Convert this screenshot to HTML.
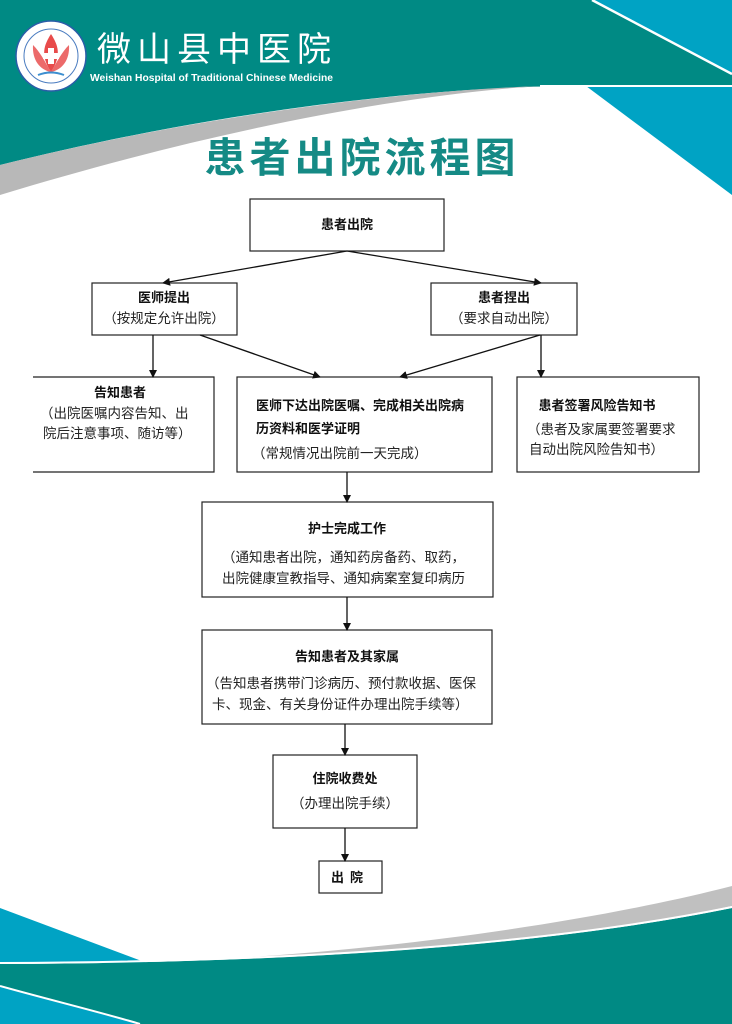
<!DOCTYPE html>
<html><head><meta charset="utf-8"><style>
html,body{margin:0;padding:0;background:#fff}
svg{display:block}
text{font-family:"Liberation Sans","Noto Sans CJK SC",sans-serif;fill:#111}
.b{font-weight:bold;font-size:13px}
.n{font-size:13.5px;fill:#222}
</style></head><body>
<svg width="732" height="1024" viewBox="0 0 732 1024" xmlns="http://www.w3.org/2000/svg">
<defs><marker id="a" markerWidth="8" markerHeight="8" refX="7" refY="4" orient="auto" markerUnits="userSpaceOnUse"><path d="M0,0 L8,4 L0,8 Z" fill="#111"/></marker></defs>
<!-- header -->
<path d="M0,0 H732 V86 H560 C380,90 180,120 0,165 Z" fill="#008a84"/>
<path d="M592,0 H732 V74 Z" fill="#00a3c4"/>
<path d="M0,165 C180,120 380,92 540,86 C380,96 180,140 0,195 Z" fill="#b8b8b8"/>
<path d="M592,0 L732,74" stroke="#fff" stroke-width="2.5" fill="none"/>
<path d="M586,86 H732 V195 Z" fill="#00a3c4"/>
<path d="M540,86 H732" stroke="#fff" stroke-width="2"/>
<circle cx="51" cy="56" r="35" fill="#fff" stroke="#2a5da8" stroke-width="1.5"/>
<circle cx="51" cy="56" r="27" fill="none" stroke="#4a7cc0" stroke-width="1"/>
<path d="M51,34 C44,45 40,55 51,72 C62,55 58,45 51,34 Z" fill="#e84b4b"/>
<path d="M33,45 C32,60 40,70 51,72 C44,60 40,52 33,45 Z M69,45 C70,60 62,70 51,72 C58,60 62,52 69,45 Z" fill="#ec6a6a"/>
<rect x="48" y="48" width="6" height="16" fill="#fff"/><rect x="43" y="53" width="16" height="6" fill="#fff"/>
<path d="M38,75 Q51,70 64,75" stroke="#3d8fd0" stroke-width="2" fill="none"/>
<text x="97" y="61" style="font-size:34px;fill:#fff;letter-spacing:6px">微山县中医院</text>
<text x="90" y="81" style="font-size:10.3px;font-weight:bold;fill:#fff">Weishan Hospital of Traditional Chinese Medicine</text>
<text x="362" y="172" text-anchor="middle" style="font-size:41px;font-weight:bold;fill:#158a85;letter-spacing:4px">患者出院流程图</text>
<!-- footer -->
<path d="M0,908 L147,963 H0 Z" fill="#00a3c4"/>
<path d="M200,960 C400,950 600,920 732,886 V906 C600,935 400,955 200,960 Z" fill="#c0c0c0"/>
<path d="M0,964 C300,963 550,945 732,908 V1024 H0 Z" fill="#008a84"/>
<path d="M0,963 C300,962 550,944 732,907" stroke="#fff" stroke-width="2" fill="none"/>
<path d="M0,986 C50,1000 100,1012 140,1024 H0 Z" fill="#00a3c4"/>
<path d="M0,986 C50,1000 100,1012 140,1024" stroke="#fff" stroke-width="2" fill="none"/>
<!-- boxes -->
<g fill="#fff" stroke="#222" stroke-width="1.2">
<rect x="250" y="199" width="194" height="52"/>
<rect x="92" y="283" width="145" height="52"/>
<rect x="431" y="283" width="146" height="52"/>
<path d="M33,377 H214 V472 H33"/>
<rect x="237" y="377" width="255" height="95"/>
<rect x="517" y="377" width="182" height="95"/>
<rect x="202" y="502" width="291" height="95"/>
<rect x="202" y="630" width="290" height="94"/>
<rect x="273" y="755" width="144" height="73"/>
<rect x="319" y="861" width="63" height="32"/>
</g>
<!-- arrows -->
<g stroke="#111" stroke-width="1.3" marker-end="url(#a)">
<line x1="347" y1="251" x2="163" y2="283"/>
<line x1="347" y1="251" x2="541" y2="283"/>
<line x1="153" y1="335" x2="153" y2="377"/>
<line x1="200" y1="335" x2="320" y2="377"/>
<line x1="540" y1="335" x2="400" y2="377"/>
<line x1="541" y1="335" x2="541" y2="377"/>
<line x1="347" y1="472" x2="347" y2="502"/>
<line x1="347" y1="597" x2="347" y2="630"/>
<line x1="345" y1="724" x2="345" y2="755"/>
<line x1="345" y1="828" x2="345" y2="861"/>
</g>
<!-- text -->
<text class="b" x="347" y="229" text-anchor="middle">患者出院</text>
<text class="b" x="164" y="302" text-anchor="middle">医师提出</text>
<text class="n" x="164" y="323" text-anchor="middle">（按规定允许出院）</text>
<text class="b" x="504" y="302" text-anchor="middle">患者捏出</text>
<text class="n" x="504" y="323" text-anchor="middle">（要求自动出院）</text>
<text class="b" x="120" y="397" text-anchor="middle">告知患者</text>
<text class="n" x="40" y="418">（出院医嘱内容告知、出</text>
<text class="n" x="43" y="438">院后注意事项、随访等）</text>
<text class="b" x="256" y="410">医师下达出院医嘱、完成相关出院病</text>
<text class="b" x="256" y="433">历资料和医学证明</text>
<text class="n" x="252" y="458">（常规情况出院前一天完成）</text>
<text class="b" x="597" y="410" text-anchor="middle">患者签署风险告知书</text>
<text class="n" x="527" y="434">（患者及家属要签署要求</text>
<text class="n" x="529" y="454">自动出院风险告知书）</text>
<text class="b" x="347" y="533" text-anchor="middle">护士完成工作</text>
<text class="n" x="222" y="562">（通知患者出院，通知药房备药、取药，</text>
<text class="n" x="222" y="583">出院健康宣教指导、通知病案室复印病历</text>
<text class="b" x="347" y="661" text-anchor="middle">告知患者及其家属</text>
<text class="n" x="206" y="688">（告知患者携带门诊病历、预付款收据、医保</text>
<text class="n" x="212" y="709">卡、现金、有关身份证件办理出院手续等）</text>
<text class="b" x="345" y="783" text-anchor="middle">住院收费处</text>
<text class="n" x="345" y="808" text-anchor="middle">（办理出院手续）</text>
<text class="b" x="350" y="882" text-anchor="middle" style="letter-spacing:6px">出院</text>
</svg>
</body></html>
